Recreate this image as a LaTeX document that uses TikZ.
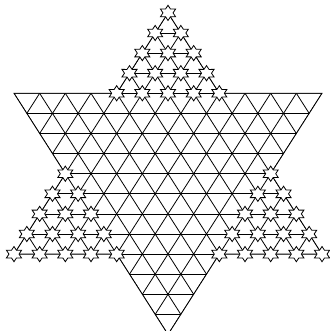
\documentclass[tikz,border=0pt]{standalone}
\begin{document}
\begin{tikzpicture}[x=1pt,y=-1pt,
  gridline/.style={line width=0.8pt,black},
  hstar/.pic={\draw[line width=0.8pt,fill=white,xscale=8.7,yscale=7.6]
    (90:1) -- (60:0.577) -- (30:1) -- (0:0.577) -- (-30:1) -- (-60:0.577) --
    (-90:1) -- (-120:0.577) -- (-150:1) -- (180:0.577) -- (150:1) -- (120:0.577) -- cycle;}]
\def\ux{25.67}
\def\uy{20.1}
\def\cx{168}
\def\yo{12.9}
\useasboundingbox (0,0) rectangle (329,331);
\coordinate (A) at (168,12.9);
\coordinate (B) at (219.34,93.3);
\coordinate (C) at (322,93.3);
\coordinate (D) at (270.68,173.7);
\coordinate (E) at (322,254.1);
\coordinate (F) at (219.34,254.1);
\coordinate (G) at (168,334.5);
\coordinate (H) at (116.66,254.1);
\coordinate (I) at (14,254.1);
\coordinate (J) at (65.32,173.7);
\coordinate (K) at (14,93.3);
\coordinate (L) at (116.66,93.3);
\begin{scope}
  \clip (A) -- (B) -- (C) -- (D) -- (E) -- (F) -- (G) -- (H) -- (I) -- (J) -- (K) -- (L) -- cycle;
  \foreach \r in {1,...,15}
    \draw[gridline] (0,{\yo+\uy*\r}) -- (329,{\yo+\uy*\r});
  \foreach \k in {-16,...,8}
    \draw[gridline] ({\cx+\ux*(\k-0.5)},{\yo-\uy}) -- ({\cx+\ux*(\k+8.5)},{\yo+17*\uy});
  \foreach \k in {-8,...,16}
    \draw[gridline] ({\cx+\ux*(\k+0.5)},{\yo-\uy}) -- ({\cx+\ux*(\k-8.5)},{\yo+17*\uy});
\end{scope}
\draw[gridline,line join=miter] (A) -- (B) -- (C) -- (D) -- (E) -- (F) -- (G) -- (H) -- (I) -- (J) -- (K) -- (L) -- cycle;
% top point stars
\foreach \r in {0,...,4}
  \foreach \m in {0,...,\r}
    \pic at ({\cx+\ux*(\m-\r/2)},{\yo+\uy*\r}) {hstar};
% lower-left point stars
\foreach \r in {8,...,12}{
  \pgfmathtruncatemacro\mm{\r-8}
  \foreach \m in {0,...,\mm}
    \pic at ({\cx+\ux*(\m-\r/2)},{\yo+\uy*\r}) {hstar};
}
% lower-right point stars
\foreach \r in {8,...,12}
  \foreach \m in {8,...,\r}
    \pic at ({\cx+\ux*(\m-\r/2)},{\yo+\uy*\r}) {hstar};
\end{tikzpicture}
\end{document}
